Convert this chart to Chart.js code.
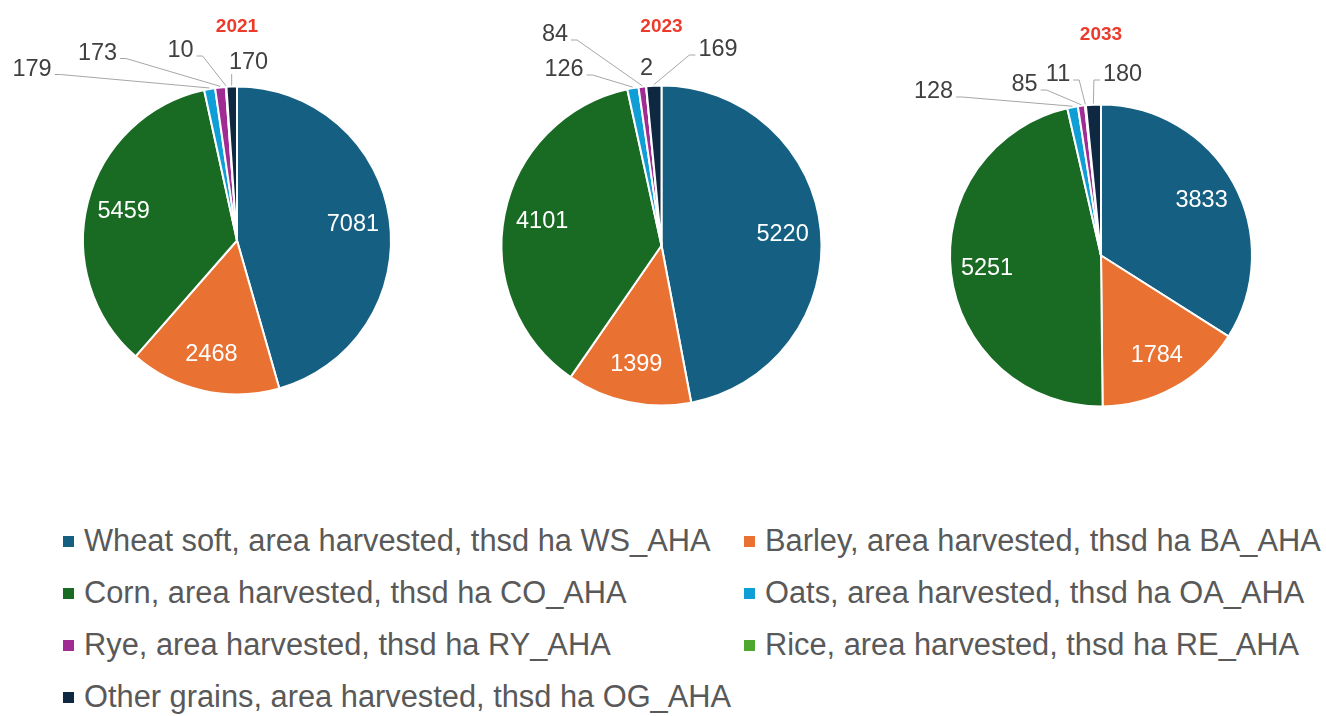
<!DOCTYPE html>
<html>
<head>
<meta charset="utf-8">
<title>Area harvested</title>
<script src="https://cdn.jsdelivr.net/npm/chart.js@4.4.1/dist/chart.umd.min.js"></script>
<style>
  body { margin: 0; background: #fff; }
  #wrap { position: relative; width: 1326px; height: 716px; overflow: hidden; }
  #wrap canvas { position: absolute; left: 0; top: 0; }
  #legend {
    position: absolute; left: 63px; top: 515px;
    display: grid; grid-template-columns: 681px auto; grid-auto-rows: 52px;
    font-family: "Liberation Sans", Arial, sans-serif; font-size: 30.8px; color: #595959;
  }
  #legend .item { display: flex; align-items: center; white-space: nowrap; }
  #legend .box { width: 11px; height: 11px; margin-right: 10px; flex: none; }
</style>
</head>
<body>
<div id="wrap">
  <canvas id="pie2021" width="1326" height="500"></canvas>
  <canvas id="pie2023" width="1326" height="500"></canvas>
  <canvas id="pie2033" width="1326" height="500"></canvas>
  <div id="legend"></div>
</div>
<script>
'use strict'

const categories = [
    'Wheat soft, area harvested, thsd ha WS_AHA',
    'Barley, area harvested, thsd ha BA_AHA',
    'Corn, area harvested, thsd ha CO_AHA',
    'Oats, area harvested, thsd ha OA_AHA',
    'Rye, area harvested, thsd ha RY_AHA',
    'Rice, area harvested, thsd ha RE_AHA',
    'Other grains, area harvested, thsd ha OG_AHA'
];
const area2021 = [7081, 2468, 5459, 179, 173, 10, 170];
const area2023 = [5220, 1399, 4101, 126, 84, 2, 169];
const area2033 = [3833, 1784, 5251, 128, 85, 11, 180];
const colors = ['#156082', '#E97132', '#196B24', '#0F9ED5', '#A02B93', '#4EA72E', '#0E2841'];

// value labels: white inside big slices, grey callouts with leader lines for small ones
const pieLabels = {
    id: 'pieLabels',
    afterDatasetsDraw(chart, args, opts) {
        const ctx = chart.ctx;
        const meta = chart.getDatasetMeta(0);
        const values = chart.data.datasets[0].data;
        const cx = meta.data[0].x, cy = meta.data[0].y, r = meta.data[0].outerRadius;
        ctx.save();
        ctx.font = '23.5px "Liberation Sans", Arial, sans-serif';
        ctx.textAlign = 'center';
        ctx.textBaseline = 'middle';
        let k = 0;
        meta.data.forEach((arc, i) => {
            const mid = (arc.startAngle + arc.endAngle) / 2;
            const frac = (arc.endAngle - arc.startAngle) / (2 * Math.PI);
            const text = String(values[i]);
            if (frac > 0.05) {
                ctx.fillStyle = '#ffffff';
                ctx.fillText(text, cx + Math.cos(mid) * r * 0.76, cy + Math.sin(mid) * r * 0.76);
                return;
            }
            const off = opts.callouts[k++];
            const lx = cx + off[0], ly = cy + off[1];
            const w = ctx.measureText(text).width;
            const px = cx + Math.cos(mid) * (r + 1), py = cy + Math.sin(mid) * (r + 1);
            ctx.strokeStyle = '#a6a6a6';
            ctx.lineWidth = 1;
            ctx.beginPath();
            if (px >= lx - w / 2 && px <= lx + w / 2) {
                if (py - (ly + 11) > 7) {
                    ctx.moveTo(px, ly + 11);
                    ctx.lineTo(px, py);
                }
            } else if (px > lx + w / 2) {
                ctx.moveTo(lx + w / 2 + 3, ly + 5);
                ctx.lineTo(lx + w / 2 + 9, ly + 5);
                ctx.lineTo(px, py);
            } else {
                ctx.moveTo(lx - w / 2 - 3, ly + 5);
                ctx.lineTo(lx - w / 2 - 9, ly + 5);
                ctx.lineTo(px, py);
            }
            ctx.stroke();
            ctx.fillStyle = '#404040';
            ctx.fillText(text, lx, ly);
        });
        ctx.font = 'bold 19px "Liberation Sans", Arial, sans-serif';
        ctx.fillStyle = '#ec3b2a';
        ctx.fillText(opts.title, cx + opts.titleOffset[0], cy + opts.titleOffset[1]);
        ctx.restore();
    }
};

function makePie(id, title, values, center, radius, callouts, titleOffset) {
    const W = 1326, H = 500;
    return new Chart(document.getElementById(id), {
        type: 'pie',
        data: {
            labels: categories,
            datasets: [{
                data: values,
                backgroundColor: colors,
                borderColor: '#ffffff',
                borderWidth: 2
            }]
        },
        options: {
            responsive: false,
            animation: false,
            events: [],
            layout: {
                padding: {
                    left: center[0] - radius - 1,
                    right: W - center[0] - radius - 1,
                    top: center[1] - radius - 1,
                    bottom: H - center[1] - radius - 1
                }
            },
            plugins: {
                legend: { display: false },
                tooltip: { enabled: false },
                pieLabels: { title: title, callouts: callouts, titleOffset: titleOffset }
            }
        },
        plugins: [pieLabels]
    });
}

makePie('pie2021', '2021', area2021, [237, 240.5], 154,
    [[-205, -171], [-139.5, -187], [-56.5, -189.5], [11.5, -177.5]], [0, -213.5]);
makePie('pie2023', '2023', area2023, [661.5, 245.5], 160,
    [[-97.5, -175.5], [-106.5, -210.5], [-15, -176.5], [56.5, -195.5]], [0, -218.5]);
makePie('pie2033', '2033', area2033, [1101, 255.5], 151,
    [[-167.5, -163.5], [-76.5, -170.5], [-43, -180.5], [21.5, -180.5]], [0, -220.5]);

// legend in two columns, same order as the series
const legend = document.getElementById('legend');
categories.forEach((name, i) => {
    const item = document.createElement('div');
    item.className = 'item';
    const box = document.createElement('span');
    box.className = 'box';
    box.style.background = colors[i];
    item.appendChild(box);
    item.appendChild(document.createTextNode(name));
    legend.appendChild(item);
});
</script>
</body>
</html>
